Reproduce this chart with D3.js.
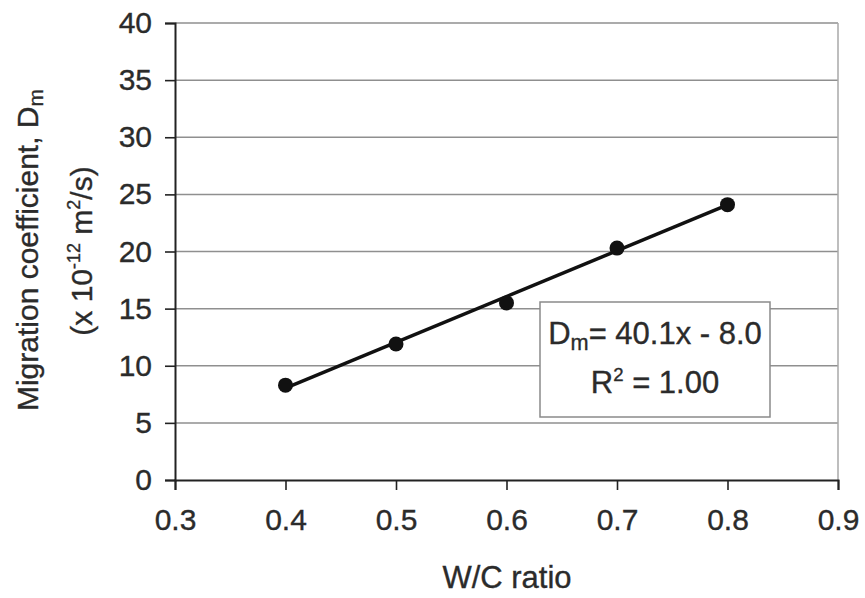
<!DOCTYPE html>
<html>
<head>
<meta charset="utf-8">
<script src="https://cdn.jsdelivr.net/npm/d3@7/dist/d3.min.js"></script>
<style>
  html, body { margin: 0; padding: 0; background: #ffffff; }
  svg { display: block; font-family: "Liberation Sans", Arial, sans-serif; }
  text { fill: #2b2b2b; stroke: #2b2b2b; stroke-width: 0.35px; }
</style>
</head>
<body>
<svg id="chart" width="865" height="598"></svg>
<script>
// Measured migration coefficients against water/cement ratio
const wcRatio = [0.4, 0.5, 0.6, 0.7, 0.8];
const migration = [8.3, 11.9, 15.5, 20.3, 24.1];

// Linear fit reported on the chart: Dm = 40.1x - 8.0
const fitSlope = 40.1;
const fitIntercept = -8.0;
const fitR2 = "1.00";

const xTicks = [0.3, 0.4, 0.5, 0.6, 0.7, 0.8, 0.9];
const yTicks = [0, 5, 10, 15, 20, 25, 30, 35, 40];

const svg = d3.select("#chart");
const plot = { left: 175, right: 838, top: 23, bottom: 480 };

const x = d3.scaleLinear().domain([0.3, 0.9]).range([plot.left, plot.right]);
const y = d3.scaleLinear().domain([0, 40]).range([plot.bottom, plot.top]);

const FS = 30;

// Horizontal gridlines
svg.append("g")
  .selectAll("line")
  .data(yTicks.filter(d => d > 0))
  .join("line")
  .attr("x1", plot.left).attr("x2", plot.right)
  .attr("y1", d => y(d)).attr("y2", d => y(d))
  .attr("stroke", "#8f8f8f")
  .attr("stroke-width", 1.5);

// Right frame edge
svg.append("line")
  .attr("x1", plot.right).attr("x2", plot.right)
  .attr("y1", plot.top).attr("y2", plot.bottom)
  .attr("stroke", "#a8a8a8")
  .attr("stroke-width", 1.5);

// Y axis
const yAxis = svg.append("g")
  .attr("transform", `translate(${plot.left},0)`)
  .call(d3.axisLeft(y).tickValues(yTicks).tickSize(10).tickPadding(13).tickFormat(d3.format("d")));
yAxis.select(".domain").attr("stroke", "#222").attr("stroke-width", 2);
yAxis.selectAll(".tick line").attr("stroke", "#222").attr("stroke-width", 1.6);
yAxis.selectAll(".tick text")
  .attr("font-size", FS)
  .attr("fill", "#2b2b2b")
  .attr("font-family", "Liberation Sans, Arial, sans-serif");

// X axis
const xAxis = svg.append("g")
  .attr("transform", `translate(0,${plot.bottom})`)
  .call(d3.axisBottom(x).tickValues(xTicks).tickSize(10).tickPadding(19).tickFormat(d3.format(".1f")));
xAxis.select(".domain").attr("stroke", "#222").attr("stroke-width", 2);
xAxis.selectAll(".tick line").attr("stroke", "#222").attr("stroke-width", 1.6);
xAxis.selectAll(".tick text")
  .attr("font-size", FS)
  .attr("fill", "#2b2b2b")
  .attr("font-family", "Liberation Sans, Arial, sans-serif");

// Regression line over the measured range
const x0 = d3.min(wcRatio), x1 = d3.max(wcRatio);
svg.append("line")
  .attr("x1", x(x0)).attr("y1", y(fitSlope * x0 + fitIntercept))
  .attr("x2", x(x1)).attr("y2", y(fitSlope * x1 + fitIntercept))
  .attr("stroke", "#111")
  .attr("stroke-width", 3.5);

// Data points
svg.append("g")
  .selectAll("circle")
  .data(wcRatio.map((d, i) => [d, migration[i]]))
  .join("circle")
  .attr("cx", d => x(d[0]))
  .attr("cy", d => y(d[1]))
  .attr("r", 7.5)
  .attr("fill", "#111");

// Equation box
const bx = 540, by = 302, bw = 230, bh = 115;
svg.append("rect")
  .attr("x", bx).attr("y", by).attr("width", bw).attr("height", bh)
  .attr("fill", "#ffffff")
  .attr("stroke", "#8a8a8a")
  .attr("stroke-width", 1.5);

const eq1 = svg.append("text")
  .attr("x", bx + bw / 2).attr("y", 344)
  .attr("text-anchor", "middle")
  .attr("font-size", 31);
eq1.append("tspan").text("D");
eq1.append("tspan").attr("font-size", 31 * 0.7).attr("dy", 6).text("m");
eq1.append("tspan").attr("dy", -6).text(`= ${fitSlope.toFixed(1)}x - ${Math.abs(fitIntercept).toFixed(1)}`);

const eq2 = svg.append("text")
  .attr("x", bx + bw / 2).attr("y", 393)
  .attr("text-anchor", "middle")
  .attr("font-size", 31);
eq2.append("tspan").text("R");
eq2.append("tspan").attr("font-size", 31 * 0.6).attr("dy", -12).text("2");
eq2.append("tspan").attr("dy", 12).text(` = ${fitR2}`);

// X axis title
svg.append("text")
  .attr("x", 507).attr("y", 588)
  .attr("text-anchor", "middle")
  .attr("font-size", 31)
  .text("W/C ratio");

// Y axis title, two lines
const yt1 = svg.append("text")
  .attr("transform", "translate(38,250) rotate(-90)")
  .attr("text-anchor", "middle")
  .attr("font-size", FS);
yt1.append("tspan").text("Migration coefficient, D");
yt1.append("tspan").attr("font-size", FS * 0.7).attr("dy", 5).text("m");

const yt2 = svg.append("text")
  .attr("transform", "translate(92,251) rotate(-90)")
  .attr("text-anchor", "middle")
  .attr("font-size", FS);
yt2.append("tspan").text("(x 10");
yt2.append("tspan").attr("font-size", FS * 0.6).attr("dy", -12).text("-12");
yt2.append("tspan").attr("dy", 12).text(" m");
yt2.append("tspan").attr("font-size", FS * 0.6).attr("dy", -12).text("2");
yt2.append("tspan").attr("dy", 12).text("/s)");
</script>
</body>
</html>
